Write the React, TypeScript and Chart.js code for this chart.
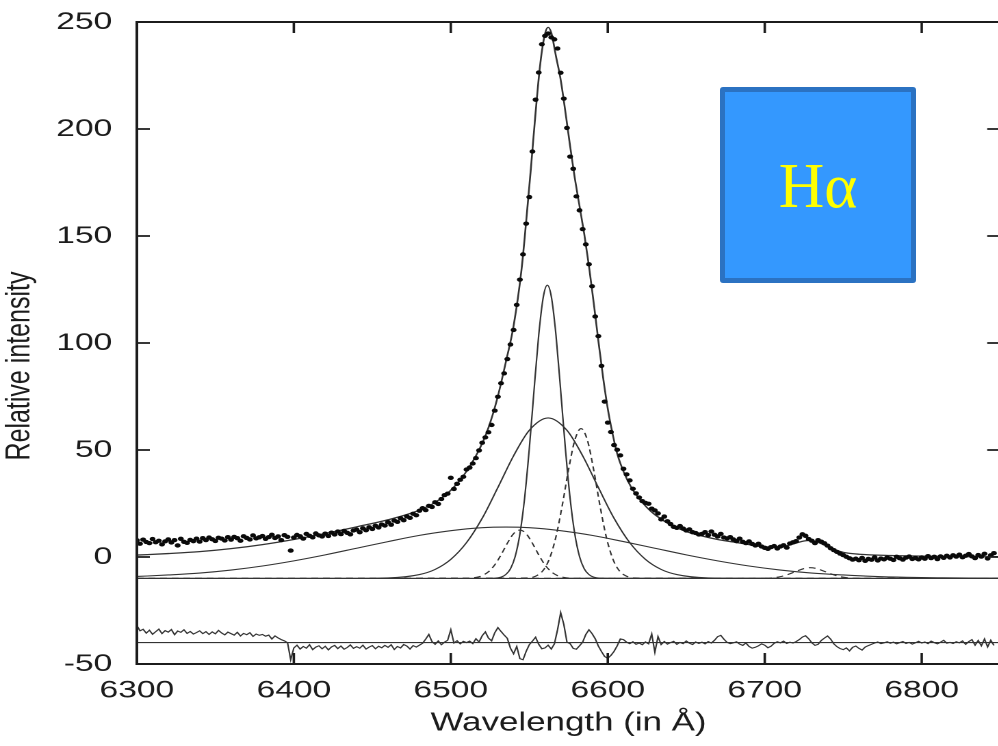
import React, { useEffect, useRef } from 'react';
import { Chart, registerables } from 'chart.js';

Chart.register(...registerables);

// ---------- axes ----------
const X_MIN = 6300;
const X_MAX = 6850;
const Y_MIN = -50;
const Y_MAX = 250;
const X_TICKS = [6300, 6400, 6500, 6600, 6700, 6800];
const Y_TICKS = [-50, 0, 50, 100, 150, 200, 250];

// ---------- observed spectrum (one point every 2 Å from 6300 Å) ----------
const WL_START = 6300;
const WL_STEP = 2;
const observed = [
  7.8, 6.2, 8.1, 7.0, 6.5, 8.4, 6.9, 7.6, 5.9, 7.3,
  8.2, 6.8, 7.9, 5.4, 8.5, 7.1, 6.6, 8.0, 7.4, 8.6,
  7.2, 8.8, 7.9, 9.1, 8.3, 7.5, 9.0, 8.6, 7.7, 9.3,
  8.1, 9.4, 8.8, 7.6, 9.7, 8.9, 8.2, 10.1, 8.7, 9.2,
  9.8, 8.5, 9.3, 10.4, 8.9, 9.6, 7.9, 10.2, 9.4, 3.0,
  9.1, 10.3, 9.7, 8.6, 10.8, 9.9, 9.2, 11.0, 10.1, 9.6,
  10.9, 9.8, 11.4, 10.5, 11.9, 10.7, 12.2, 11.3, 10.6, 12.4,
  12.8, 11.6, 13.4, 12.5, 13.9, 13.1, 14.6, 13.8, 15.2, 14.7,
  16.3, 15.1, 17.0, 16.4, 18.1, 17.2, 19.0, 18.3, 20.2, 19.5,
  21.6, 22.8, 21.9, 23.9, 23.4, 25.6, 24.8, 27.1, 28.9, 29.6,
  37.0, 31.8, 34.2, 36.1, 37.5, 40.9, 41.8, 43.7, 46.2, 49.8,
  53.4, 55.9, 58.3, 61.7, 68.4, 74.9, 81.2, 85.8, 92.5, 99.3,
  106.1, 117.8, 129.6, 141.4, 155.8, 168.2, 189.5, 213.7, 226.4, 239.6,
  243.5, 244.6, 242.8, 241.9, 237.6, 226.3, 214.2, 200.5, 187.1, 181.4,
  168.5, 162.0, 153.2, 146.1, 136.8, 126.5, 112.4, 103.2, 89.3, 72.6,
  62.8, 58.4, 52.3, 50.1, 47.5, 41.2, 38.6, 35.8, 31.9, 29.7,
  27.8, 26.1, 25.3, 24.9, 22.6, 21.8, 20.4, 17.6, 18.9, 16.7,
  15.4, 14.1, 13.6, 14.5, 13.3, 12.4, 12.9, 11.6, 11.2, 10.5,
  10.8, 11.6, 10.2, 11.9, 10.4, 9.6, 10.8, 9.1, 8.7, 9.3,
  8.2, 7.4, 8.6, 7.1, 6.5, 7.3, 6.1, 5.4, 6.2, 4.9,
  4.3, 3.8, 4.6, 5.1, 4.0, 4.9, 5.5, 4.4, 6.3, 6.9,
  7.4, 9.1, 10.6, 9.9, 8.4, 7.6, 6.5, 7.9, 7.2, 6.4,
  5.3, 4.1, 3.2, 2.4, 1.6, 0.9, 0.1, -0.6, -1.2, -0.8,
  -1.5, -0.4, -1.8, -0.9, -1.3, -0.2, -1.6, -0.7, -1.1, -0.3,
  -0.8, -1.4, 0.1, -0.6, -1.2, -0.3, 0.2, -0.9, -0.5, -1.1,
  -0.2, -0.8, 0.4, -0.5, 0.1, -1.0, 0.3, -0.4, 0.6, -0.2,
  0.8, 0.2, 1.1, -0.1, 0.6, 1.4, 0.3, -0.5, 0.9, 0.2,
  1.5, -0.7, 0.8, 1.8,
];

// ---------- residuals (same wavelength grid), shown around -40 ----------
const residual = [
  -32.0, -34.5, -33.8, -35.6, -34.2, -36.1, -34.9, -33.7, -35.8, -34.4,
  -35.1, -33.9, -36.3, -34.6, -35.2, -34.0, -35.7, -34.8, -36.0, -35.3,
  -34.5, -35.8, -34.9, -36.2, -35.0, -35.9, -34.3, -35.5, -36.4, -35.1,
  -35.8, -36.5, -35.2, -36.9, -35.7, -36.3, -35.4, -37.1, -36.0, -36.6,
  -36.2, -37.0, -36.5, -38.3, -36.9, -37.8, -38.6, -39.2, -40.1, -48.0,
  -42.5, -41.2, -43.0, -41.8, -42.6, -41.0, -43.3, -42.1, -41.5, -42.9,
  -41.7, -43.4, -42.0, -41.3, -42.8, -41.6, -43.1, -42.3, -41.1, -42.7,
  -41.9, -42.6, -41.2, -43.0, -42.1, -41.4, -42.9, -41.7, -42.4, -41.3,
  -42.2, -41.0, -43.2, -41.8, -42.5, -40.9, -41.6, -43.0, -41.4, -42.1,
  -41.2, -40.3, -38.4, -36.2, -39.5, -40.8, -39.2, -41.0, -39.8, -38.9,
  -34.0, -40.2, -39.1, -40.6, -39.4, -40.0, -39.3, -40.5, -38.2, -39.7,
  -36.8, -35.0, -37.9, -39.2, -35.4, -33.0, -34.8, -36.5, -38.0, -42.6,
  -45.2, -41.8, -47.5, -48.0, -44.1, -41.0, -39.3, -37.5, -40.8, -42.9,
  -42.5, -41.2, -43.0, -40.6, -34.0, -26.0, -31.5, -39.8, -40.5, -42.7,
  -43.1, -41.5, -39.8, -36.2, -34.0, -35.8, -38.2, -41.6, -44.2, -46.5,
  -47.3, -46.0, -44.1, -41.5, -38.3, -38.6, -39.8, -40.5, -39.6, -40.8,
  -40.2, -41.0, -39.7, -40.6, -36.0, -44.5, -37.2, -40.9, -39.5, -40.7,
  -40.0, -39.4, -40.8, -39.9, -40.5, -39.2, -40.3, -40.9, -39.7, -40.4,
  -39.8, -40.6, -39.5, -40.2, -38.9, -37.2, -36.6, -38.4, -39.9, -40.5,
  -40.1, -39.6, -40.7, -41.3, -40.2, -41.8, -42.6, -42.2, -41.5, -40.6,
  -41.2, -42.4, -41.7, -40.3, -39.6, -40.1, -39.3, -40.4, -39.8, -40.2,
  -39.5, -38.6, -37.4, -36.8, -38.2, -40.1, -41.3, -40.8, -39.0, -37.9,
  -36.9, -38.4, -40.6, -41.9, -42.8, -43.3, -42.5, -43.9, -42.2, -41.6,
  -42.7, -43.5, -42.1, -41.4, -40.8, -40.2, -39.7, -40.5, -40.1, -39.6,
  -40.3, -39.8, -40.6, -40.0, -39.5, -40.4, -39.9, -40.7, -40.1, -39.4,
  -40.2, -39.7, -40.5, -39.3, -40.0, -40.6, -39.8, -38.9, -40.3, -39.9,
  -40.4, -39.6, -40.1, -39.2, -40.8, -39.5, -38.6, -41.2, -39.0, -41.5,
  -38.3, -42.0, -38.9, -41.3,
];

const COMPONENT_BASELINE = -10;
const RESIDUAL_BASELINE = -40;

// ---------- total fit ----------
const fitWl = [
  6300, 6320, 6340, 6360, 6380, 6400, 6420, 6440, 6460, 6480, 6490, 6500, 6510, 6520, 6525,
  6530, 6535, 6540, 6545, 6548, 6551, 6554, 6557, 6560, 6562, 6564, 6567, 6570, 6573, 6576,
  6579, 6582, 6585, 6588, 6591, 6594, 6597, 6600, 6603, 6606, 6610, 6615, 6620, 6625, 6630,
  6640, 6650, 6660, 6670, 6680, 6690, 6700, 6710, 6715, 6720, 6725, 6729, 6733, 6738, 6743,
  6748, 6753, 6760, 6780, 6800, 6820, 6850,
];
const fitVal = [
  0.9, 1.6, 2.5, 3.9, 5.8, 8.2, 11.0, 14.1, 17.4, 21.9, 25.5, 31.2, 40.0, 53.1, 62.6,
  75.2, 90.9, 108.0, 134.0, 156.7, 181.4, 207.6, 230.5, 244.5, 247.5, 245.0, 234.0, 223.0, 208.0, 192.0,
  177.0, 164.0, 151.0, 136.0, 119.0, 101.0, 84.0, 69.3, 57.8, 48.3, 40.0, 32.5, 27.3, 23.1, 19.8,
  15.0, 11.9, 9.8, 8.2, 7.0, 5.8, 4.7, 4.7, 5.4, 6.5, 7.5, 7.7, 7.1, 5.6, 3.9,
  2.6, 1.8, 1.3, 0.7, 0.4, 0.2, 0.1,
];

// ---------- fitted components (drawn on the -10 baseline) ----------
const narrowWl = [6300, 6520, 6528, 6532, 6535, 6538, 6541, 6544, 6547, 6550, 6553, 6556, 6559, 6561.5, 6564, 6567, 6570, 6573, 6576, 6579, 6582, 6585, 6588, 6591, 6595, 6603, 6850];
const narrowVal = [-10, -10, -9.9, -9.4, -8.2, -5.5, 0.2, 10.7, 27.4, 50.6, 77.7, 103.7, 121.8, 127, 121.8, 103.7, 77.7, 50.6, 27.4, 10.7, 0.2, -5.5, -8.2, -9.4, -9.9, -10, -10];

const mediumWl = [6300, 6440, 6460, 6480, 6490, 6500, 6510, 6520, 6530, 6540, 6550, 6562, 6574, 6584, 6594, 6604, 6614, 6624, 6634, 6644, 6664, 6684, 6850];
const mediumVal = [-10, -10, -9.8, -8.2, -5.8, -1.1, 6.7, 18.1, 32.5, 47.3, 59.2, 65, 59.2, 47.3, 32.5, 18.1, 6.7, -1.1, -5.8, -8.2, -9.8, -10, -10];

const broadWl = [6300, 6320, 6340, 6360, 6380, 6400, 6420, 6440, 6460, 6480, 6500, 6520, 6535, 6550, 6570, 6590, 6610, 6630, 6650, 6670, 6690, 6710, 6730, 6750, 6770, 6790, 6810, 6830, 6850];
const broadVal = [-9.1, -8.4, -7.5, -6.1, -4.2, -1.8, 1.0, 4.1, 7.2, 10.1, 12.3, 13.7, 14.0, 13.7, 12.3, 10.1, 7.2, 4.1, 1.0, -1.8, -4.2, -6.1, -7.5, -8.4, -9.1, -9.5, -9.7, -9.86, -9.9];

const dashLeftWl = [6300, 6510, 6516, 6520, 6524, 6528, 6532, 6536, 6540, 6544, 6548, 6552, 6556, 6560, 6564, 6568, 6572, 6578, 6850];
const dashLeftVal = [-10, -9.9, -9.55, -8.7, -6.9, -3.7, 1.0, 6.4, 10.9, 12.6, 10.9, 6.4, 1.0, -3.7, -6.9, -8.7, -9.55, -9.9, -10];

const dashRightWl = [6300, 6549, 6555, 6559, 6563, 6567, 6571, 6575, 6579, 6583, 6587, 6591, 6595, 6599, 6603, 6607, 6611, 6617, 6850];
const dashRightVal = [-10, -9.8, -8.6, -6.1, -0.5, 9.5, 24.1, 40.8, 54.6, 60, 54.6, 40.8, 24.1, 9.5, -0.5, -6.1, -8.6, -9.8, -10];

const dashSmallWl = [6300, 6700, 6705, 6710, 6715, 6720, 6725, 6729, 6733, 6738, 6743, 6748, 6753, 6758, 6850];
const dashSmallVal = [-10, -9.93, -9.72, -9.18, -8.1, -6.7, -5.4, -5.0, -5.4, -6.7, -8.1, -9.18, -9.72, -9.93, -10];

// ---------- drawing helpers ----------
const FONT = '"Liberation Sans", Arial, Helvetica, sans-serif';
const INK = '#1c1c1c';
const LINE = '#333333';
const SCALE_X = 157.5 / 115.087; // horizontal stretch of the reference picture
const CANVAS_W = 733;
const CANVAS_H = 746;

const pts = (xs: number[], ys: number[]) => xs.map((x, i) => ({ x, y: ys[i] }));
const gridPts = (ys: number[]) => ys.map((y, i) => ({ x: WL_START + i * WL_STEP, y }));

const framePlugin = {
  id: 'frameTicks',
  afterDatasetsDraw(chart: any) {
    const { ctx, chartArea, scales } = chart;
    const { left, right, top, bottom } = chartArea;
    const xs = scales.x;
    const ys = scales.y;
    ctx.save();
    ctx.strokeStyle = INK;
    ctx.lineWidth = 2;
    ctx.strokeRect(left, top, right - left, bottom - top);
    ctx.lineWidth = 1.8;
    ctx.beginPath();
    X_TICKS.forEach((v) => {
      const px = xs.getPixelForValue(v);
      ctx.moveTo(px, bottom);
      ctx.lineTo(px, bottom - 11);
      ctx.moveTo(px, top);
      ctx.lineTo(px, top + 11);
    });
    Y_TICKS.forEach((v) => {
      const py = ys.getPixelForValue(v);
      ctx.moveTo(left, py);
      ctx.lineTo(left + 9.5, py);
      ctx.moveTo(right, py);
      ctx.lineTo(right - 9.5, py);
    });
    ctx.stroke();
    ctx.restore();
  },
  afterDraw(chart: any) {
    const { ctx } = chart;
    ctx.save();
    ctx.fillStyle = INK;
    ctx.font = `25px ${FONT}`;
    ctx.textAlign = 'center';
    ctx.textBaseline = 'middle';
    ctx.translate(14.5, 366);
    ctx.rotate(-Math.PI / 2);
    ctx.fillText('Relative intensity', 0, 0);
    ctx.restore();
  },
};

export default function App() {
  const canvasRef = useRef<HTMLCanvasElement | null>(null);

  useEffect(() => {
    document.body.style.margin = '0';
    const canvas = canvasRef.current;
    if (!canvas) return;
    const lineDs = (data: any[], width: number, dash: number[] = [], smooth = true) => ({
      type: 'scatter' as const,
      data,
      showLine: true,
      borderColor: LINE,
      borderWidth: width,
      borderDash: dash,
      pointRadius: 0,
      pointHoverRadius: 0,
      fill: false,
      tension: 0,
      cubicInterpolationMode: smooth ? 'monotone' : 'default',
    });

    const chart = new Chart(canvas, {
      type: 'scatter',
      data: {
        datasets: [
          {
            label: 'observed',
            data: gridPts(observed),
            showLine: false,
            pointRadius: 2.15,
            pointBackgroundColor: '#0a0a0a',
            pointBorderWidth: 0,
            pointHoverRadius: 0,
          } as any,
          { label: 'fit', ...lineDs(pts(fitWl, fitVal), 1.3) } as any,
          { label: 'residual', ...lineDs(gridPts(residual), 1.1, [], false) } as any,
          { label: 'residual zero', ...lineDs(pts([X_MIN, X_MAX], [RESIDUAL_BASELINE, RESIDUAL_BASELINE]), 1.1, [], false) } as any,
          { label: 'component zero', ...lineDs(pts([X_MIN, X_MAX], [COMPONENT_BASELINE, COMPONENT_BASELINE]), 1.1, [], false) } as any,
          { label: 'narrow', ...lineDs(pts(narrowWl, narrowVal), 1.1) } as any,
          { label: 'medium', ...lineDs(pts(mediumWl, mediumVal), 1.1) } as any,
          { label: 'broad', ...lineDs(pts(broadWl, broadVal), 1.1) } as any,
          { label: 'dash left', ...lineDs(pts(dashLeftWl, dashLeftVal), 1.1, [5, 3.5]) } as any,
          { label: 'dash right', ...lineDs(pts(dashRightWl, dashRightVal), 1.1, [5, 3.5]) } as any,
          { label: 'dash small', ...lineDs(pts(dashSmallWl, dashSmallVal), 1.1, [5, 3.5]) } as any,
        ],
      },
      options: {
        animation: false,
        responsive: false,
        devicePixelRatio: 2,
        events: [],
        layout: { padding: { top: 22, right: 0, left: 0, bottom: 0 } },
        plugins: { legend: { display: false }, tooltip: { enabled: false } },
        scales: {
          x: {
            type: 'linear',
            position: 'bottom',
            min: X_MIN,
            max: X_MAX,
            afterBuildTicks: (s: any) => {
              s.ticks = X_TICKS.map((v) => ({ value: v }));
            },
            afterFit: (s: any) => {
              s.height = 82;
              s.paddingLeft = 0;
              s.paddingRight = 0;
            },
            grid: { display: false, drawTicks: false },
            border: { display: false },
            ticks: {
              padding: 12,
              color: INK,
              autoSkip: false,
              maxRotation: 0,
              font: { family: FONT, size: 24.5 },
              callback: (v: any) => String(v),
            },
            title: {
              display: true,
              text: 'Wavelength (in Å)',
              color: INK,
              font: { family: FONT, size: 25.5, lineHeight: 1.2 },
              padding: { top: 0, bottom: 7 },
            },
          },
          y: {
            type: 'linear',
            min: Y_MIN,
            max: Y_MAX,
            afterBuildTicks: (s: any) => {
              s.ticks = Y_TICKS.map((v) => ({ value: v }));
            },
            afterFit: (s: any) => {
              s.width = 100;
              s.paddingTop = 0;
              s.paddingBottom = 0;
            },
            grid: { display: false, drawTicks: false },
            border: { display: false },
            ticks: {
              padding: 18,
              color: INK,
              font: { family: FONT, size: 24.5 },
              callback: (v: any) => String(v),
            },
          },
        },
      } as any,
      plugins: [framePlugin],
    });
    return () => chart.destroy();
  }, []);

  return (
    <div
      style={{
        position: 'fixed',
        left: 0,
        top: 0,
        width: 998,
        height: 746,
        overflow: 'hidden',
        background: '#ffffff',
      }}
    >
      <div
        style={{
          position: 'absolute',
          left: 0,
          top: 0,
          width: CANVAS_W,
          height: CANVAS_H,
          transform: `scale(${SCALE_X}, 1)`,
          transformOrigin: '0 0',
        }}
      >
        <canvas ref={canvasRef} width={CANVAS_W} height={CANVAS_H} />
      </div>
      <div
        style={{
          position: 'absolute',
          left: 720,
          top: 87,
          width: 196,
          height: 196,
          boxSizing: 'border-box',
          background: '#3498fe',
          border: '5px solid #2b72c2',
          borderRadius: 3,
          display: 'flex',
          alignItems: 'center',
          justifyContent: 'center',
        }}
      >
        <span
          style={{
            color: '#ffff00',
            fontFamily: '"Liberation Serif", "Times New Roman", serif',
            fontSize: 63,
            lineHeight: 1,
            paddingTop: 3,
          }}
        >
          Hα
        </span>
      </div>
    </div>
  );
}
